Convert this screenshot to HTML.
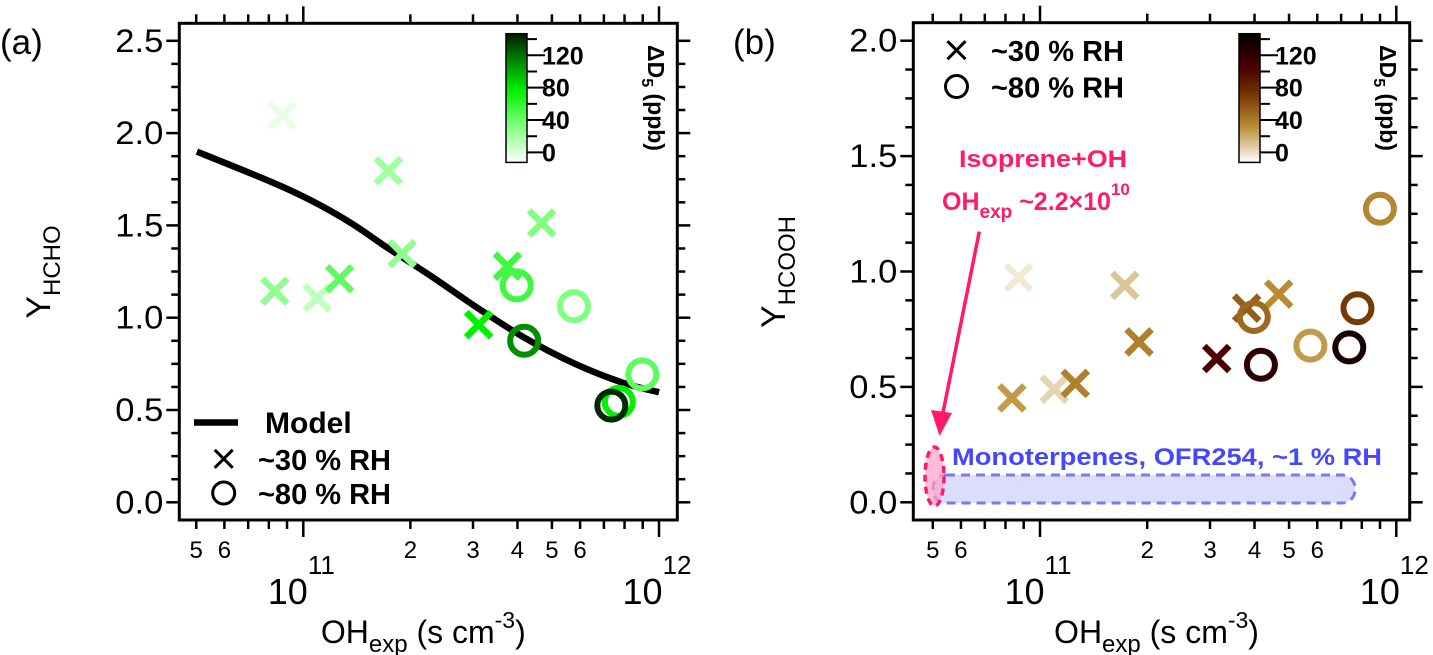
<!DOCTYPE html>
<html><head><meta charset="utf-8"><style>
html,body{margin:0;padding:0;background:#fff;}
svg{display:block;font-family:"Liberation Sans",Arial,sans-serif;}
</style></head><body>
<svg id="fig" width="1433" height="655" viewBox="0 0 1433 655"></svg>
<script>
// ---- Panel (a) data: log10(OHexp), Y_HCHO, ΔD5 ----
const aCrossX = [10.941,10.920,11.039,11.102,11.239,11.278,11.493,11.574,11.670];
const aCrossY = [2.096,1.144,1.107,1.211,1.796,1.347,0.962,1.279,1.513];
const aCrossC = [8,35,20,50,30,35,80,60,40];
const aCircX = [11.600,11.621,11.761,11.953,11.887,11.866];
const aCircY = [1.175,0.875,1.062,0.693,0.544,0.524];
const aCircC = [60,110,40,50,80,138];
const modelX = [10.701,10.912,11.016,11.130,11.234,11.358,11.483,11.618,11.763,11.898,12.0];
const modelY = [1.900,1.734,1.641,1.518,1.382,1.227,1.062,0.896,0.751,0.648,0.596];
// ---- Panel (b) data: log10(OHexp), Y_HCOOH, ΔD5 ----
const bCrossX = [10.940,10.921,11.040,11.099,11.238,11.278,11.496,11.580,11.670];
const bCrossY = [0.974,0.452,0.490,0.515,0.940,0.695,0.623,0.841,0.902];
const bCrossC = [8,35,15,45,20,45,105,60,40];
const bCircX = [11.600,11.620,11.759,11.868,11.891,11.954];
const bCircY = [0.803,0.596,0.679,0.671,0.841,1.272];
const bCircC = [55,120,35,132,75,42];
const aYTicks = [0,0.5,1.0,1.5,2.0,2.5];
const aYLabels = ["0.0","0.5","1.0","1.5","2.0","2.5"];
const bYTicks = [0,0.5,1.0,1.5,2.0];
const bYLabels = ["0.0","0.5","1.0","1.5","2.0"];
const cbTicks = [0,40,80,120];

const NS="http://www.w3.org/2000/svg";
const svg=document.getElementById('fig');
function mk(tag,attrs,parent){const e=document.createElementNS(NS,tag);for(const k in attrs)e.setAttribute(k,attrs[k]);(parent||svg).appendChild(e);return e;}

const greenStops=[[0,[255,255,255]],[40,[128,255,128]],[80,[0,240,0]],[120,[0,110,0]],[143,[0,25,0]]];
const brownStops=[[0,[255,255,255]],[40,[185,140,50]],[80,[110,45,0]],[105,[75,0,0]],[143,[0,0,0]]];
function cmap(stops,v){
  if(v<=stops[0][0])return 'rgb('+stops[0][1]+')';
  for(let i=1;i<stops.length;i++){if(v<=stops[i][0]){const t=(v-stops[i-1][0])/(stops[i][0]-stops[i-1][0]);const a=stops[i-1][1],b=stops[i][1];return 'rgb('+a.map((x,j)=>Math.round(x+(b[j]-x)*t)).join(',')+')';}}
  return 'rgb('+stops[stops.length-1][1]+')';
}
function smoothPath(pts){
  let d='M'+pts[0][0].toFixed(1)+','+pts[0][1].toFixed(1);
  for(let i=0;i<pts.length-1;i++){
    const p0=pts[Math.max(0,i-1)],p1=pts[i],p2=pts[i+1],p3=pts[Math.min(pts.length-1,i+2)];
    const c1=[p1[0]+(p2[0]-p0[0])/6,p1[1]+(p2[1]-p0[1])/6];
    const c2=[p2[0]-(p3[0]-p1[0])/6,p2[1]-(p3[1]-p1[1])/6];
    d+='C'+c1.map(v=>v.toFixed(1))+' '+c2.map(v=>v.toFixed(1))+' '+p2.map(v=>v.toFixed(1));
  }
  return d;
}

function panel(P){
  const g=mk('g',{});
  
  
  const sx=v=>P.x11+(v-11)*P.dec;
  const sy=v=>P.y0-v*P.ppu;
  const ymax=(P.y0-P.top)/P.ppu;
  for(let v=0;v<=ymax+1e-6;v+=0.125){
    const major=Math.abs(v*2-Math.round(v*2))<1e-6;
    const L=major?13:8;
    mk('line',{x1:P.left-L,x2:P.left,y1:sy(v),y2:sy(v),stroke:'#000','stroke-width':2.5},g);
    mk('line',{x1:P.right,x2:P.right+L,y1:sy(v),y2:sy(v),stroke:'#000','stroke-width':2.5},g);
  }
  P.yTicks.forEach((v,i)=>{
    const t=mk('text',{x:P.left-16,y:sy(v)+11,'text-anchor':'end','font-size':32,textLength:48,lengthAdjust:'spacingAndGlyphs'},g);
    t.textContent=P.yLabels[i];
    
    
  });
  const labels={5:'5',6:'6',20:'2',30:'3',40:'4',50:'5',60:'6'};
  for(let e=10;e<=11;e++){for(let m=1;m<=9;m++){
    const lv=e+Math.log10(m); const val=(e===10?m:m*10);
    if(lv<P.xmin||lv>P.xmax)continue;
    const x=sx(lv); const major=(m===1); const L=major?17:9;
    mk('line',{x1:x,x2:x,y1:P.bottom,y2:P.bottom+L,stroke:'#000','stroke-width':2.5},g);
    mk('line',{x1:x,x2:x,y1:P.top-L,y2:P.top,stroke:'#000','stroke-width':2.5},g);
    if(!major&&labels[val]){const t=mk('text',{x:x,y:558,'text-anchor':'middle','font-size':24},g);t.textContent=labels[val];}
  }}
  const x12=sx(12);
  mk('line',{x1:x12,x2:x12,y1:P.bottom,y2:P.bottom+17,stroke:'#000','stroke-width':2.5},g);
  mk('line',{x1:x12,x2:x12,y1:P.top-17,y2:P.top,stroke:'#000','stroke-width':2.5},g);
  [[11,'11'],[12,'12']].forEach(d=>{
    const t=mk('text',{x:sx(d[0])-2,y:604,'text-anchor':'middle','font-size':36},g);
    t.innerHTML='10<tspan dy="-30" font-size="26">'+d[1]+'</tspan>';
    
    
  });
  const xt=mk('text',{x:(P.left+P.right)/2-5,y:643,'text-anchor':'middle','font-size':32},g);
  xt.innerHTML='OH<tspan dy="9" font-size="24">exp</tspan><tspan dy="-9"> (s cm</tspan><tspan dy="-15" font-size="23">-3</tspan><tspan dy="15">)</tspan>';
  
  
  const yt=mk('text',{x:0,y:0,'text-anchor':'middle','font-size':34,transform:'translate('+P.ytx+',272) rotate(-90)'},g);
  yt.innerHTML='Y<tspan dy="10" font-size="24">'+P.ysub+'</tspan>';
  
  
  const pl=mk('text',{x:P.plx,y:54,'font-size':35},g);
  pl.textContent=P.plabel;
  
  
  const cp=mk('clipPath',{id:'clip'+P.id},g);
  mk('rect',{x:P.left,y:P.top,width:P.right-P.left,height:P.bottom-P.top},cp);
  const plot=mk('g',{'clip-path':'url(#clip'+P.id+')'},g);
  if(P.extra)P.extra(plot,sx,sy);
  if(P.model){
    const pts=P.model[0].map((v,i)=>[sx(v),sy(P.model[1][i])]);
    const m=mk('path',{d:smoothPath(pts),fill:'none',stroke:'#000','stroke-width':6.5},plot);
    
    
  }
  P.cx.forEach((v,i)=>{
    const x=sx(v),y=sy(P.cy[i]),r=12.5,c=cmap(P.stops,P.cc[i]);
    const p=mk('path',{d:`M${x-r},${y-r}L${x+r},${y+r}M${x-r},${y+r}L${x+r},${y-r}`,stroke:c,'stroke-width':6.5,fill:'none'},plot);
    
    
  });
  P.ox.forEach((v,i)=>{
    const c=mk('circle',{cx:sx(v),cy:sy(P.oy[i]),r:14,fill:'none',stroke:cmap(P.stops,P.oc[i]),'stroke-width':6},plot);
    
    
  });
  const f=mk('rect',{x:P.left,y:P.top,width:P.right-P.left,height:P.bottom-P.top,fill:'none',stroke:'#000','stroke-width':3},g);
  
  
  const gid='grad'+P.id;
  const lg=mk('linearGradient',{id:gid,x1:0,y1:1,x2:0,y2:0},g);
  P.stops.forEach(s=>mk('stop',{offset:(s[0]/143),'stop-color':cmap(P.stops,s[0])},lg));
  const cb0=P.cbBottom, cbTop=P.cbTop, cpu=(cb0-cbTop)/143;
  const cb=mk('rect',{x:P.cbx,y:cbTop-3,width:21,height:cb0-cbTop+13,fill:'url(#'+gid+')',stroke:'#000','stroke-width':1.5},g);
  
  
  for(let v=0;v<=140;v+=20){
    const y=cb0-v*cpu; const L=(v%40===0)?18:10;
    mk('line',{x1:P.cbx+21,x2:P.cbx+21+L,y1:y,y2:y,stroke:'#000','stroke-width':2},g);
  }
  cbTicks.forEach(v=>{
    const t=mk('text',{x:P.cbx+36,y:cb0-v*cpu+9,'font-size':25,'font-weight':'bold'},g);
    t.textContent=v;
    
    
  });
  const ct=mk('text',{x:0,y:0,'font-size':23,'font-weight':'bold','text-anchor':'middle',transform:'translate('+P.cbtx+',98) rotate(90)'},g);
  ct.innerHTML='ΔD<tspan dy="6" font-size="16">5</tspan><tspan dy="-6"> (ppb)</tspan>';
  
  
  return g;
}

function legendItems(g,x,yc1,yc2,tx){
  const r=9;
  mk('path',{d:`M${x-r},${yc1-r}L${x+r},${yc1+r}M${x-r},${yc1+r}L${x+r},${yc1-r}`,stroke:'#000','stroke-width':3},g);
  mk('circle',{cx:x,cy:yc2,r:11,fill:'none',stroke:'#000','stroke-width':3},g);
  const t1=mk('text',{x:tx,y:yc1+11,'font-size':29,'font-weight':'bold'},g);t1.textContent='~30 % RH';
  
  
  const t2=mk('text',{x:tx,y:yc2+11,'font-size':29,'font-weight':'bold'},g);t2.textContent='~80 % RH';
  
  
}

const ga=panel({id:'a',left:179.3,right:677.3,top:23.3,bottom:520,x11:303.3,dec:355.7,y0:502.3,ppu:184.6,xmin:10.65,xmax:12.06,
  yTicks:aYTicks,yLabels:aYLabels,ysub:'HCHO',ytx:50,plx:0,plabel:'(a)',
  cx:aCrossX,cy:aCrossY,cc:aCrossC,ox:aCircX,oy:aCircY,oc:aCircC,stops:greenStops,model:[modelX,modelY],
  cbx:506,cbTop:36.7,cbBottom:152.4,cbtx:648});
mk('line',{x1:194,x2:238,y1:422.5,y2:422.5,stroke:'#000','stroke-width':6.5},ga);
const mt=mk('text',{x:265,y:433,'font-size':30,'font-weight':'bold'},ga);mt.textContent='Model';


legendItems(ga,223.7,458.8,493,258);

const gb=panel({id:'b',left:913.3,right:1409.7,top:22.7,bottom:520,x11:1040,dec:356.3,y0:502.3,ppu:230.8,xmin:10.65,xmax:12.05,
  yTicks:bYTicks,yLabels:bYLabels,ysub:'HCOOH',ytx:785,plx:733,plabel:'(b)',
  cx:bCrossX,cy:bCrossY,cc:bCrossC,ox:bCircX,oy:bCircY,oc:bCircC,stops:brownStops,
  cbx:1239,cbTop:36.7,cbBottom:152.4,cbtx:1380,
  extra:(pg,sx,sy)=>{
    const r=mk('rect',{x:933,y:475,width:422,height:28,rx:13,fill:'#dcdcfb',stroke:'#7a7af0','stroke-width':3,'stroke-dasharray':'9,6'},pg);
    
    
    const e=mk('ellipse',{cx:934.5,cy:476.5,rx:9.5,ry:29.5,fill:'rgba(255,160,200,0.7)',stroke:'#ff1a6a','stroke-width':3.5,'stroke-dasharray':'7,5'},pg);
    
    
  }});
legendItems(gb,956.5,50.2,86.5,991);
const mono=mk('text',{x:952,y:465,'font-size':24,'font-weight':'bold',fill:'#4646ff',textLength:430,lengthAdjust:'spacingAndGlyphs'},gb);
mono.textContent='Monoterpenes, OFR254, ~1 % RH';


const iso=mk('text',{x:959,y:167,'font-size':24,'font-weight':'bold',fill:'#ff1a6a',textLength:168,lengthAdjust:'spacingAndGlyphs'},gb);
iso.textContent='Isoprene+OH';


const oh=mk('text',{x:942,y:210,'font-size':25,'font-weight':'bold',fill:'#ff1a6a'},gb);
oh.innerHTML='OH<tspan dy="8" font-size="19">exp</tspan><tspan dy="-8"> ~2.2×10</tspan><tspan dy="-15" font-size="17">10</tspan>';


const ar=mk('line',{x1:979.3,y1:231.6,x2:942.5,y2:415,stroke:'#ff1a6a','stroke-width':3.5},gb);


mk('polygon',{points:'939.6,436 931,410 952,413','fill':'#ff1a6a'},gb);
</script>
</body></html>
